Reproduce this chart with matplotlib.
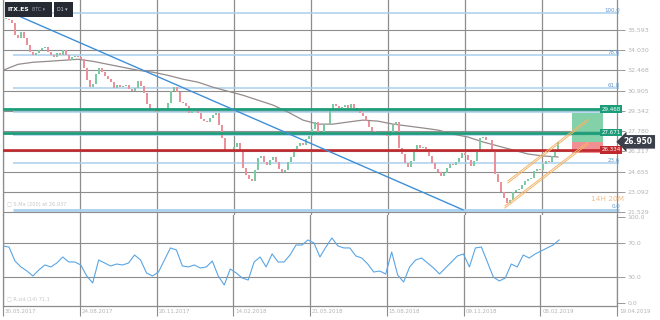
import matplotlib
matplotlib.use("Agg")
import matplotlib.pyplot as plt
import matplotlib.transforms as mtransforms
from matplotlib.patches import Rectangle
import numpy as np

# daily closes (sampled), ITX.ES
closes = [36.48, 36.48, 36.33, 36.17, 35.17, 34.94, 35.40, 34.94, 34.40, 33.86,
          33.63, 33.79, 34.02, 34.17, 34.25, 33.86, 33.63, 33.48, 33.79, 33.63,
          34.02, 33.63, 33.25, 33.48, 33.56, 33.48, 33.33, 32.63, 31.71, 31.17,
          31.40, 32.17, 32.63, 32.33, 32.02, 31.79, 31.56, 31.09, 31.32, 31.17,
          31.25, 31.32, 31.02, 30.86, 31.09, 31.63, 31.25, 30.71, 29.86, 29.48,
          29.40, 29.25, 29.40, 29.40, 29.48, 29.94, 30.86, 31.17, 30.79, 30.02,
          29.94, 29.71, 29.17, 29.32, 29.40, 29.17, 28.71, 28.55, 28.48, 28.79,
          29.02, 29.17, 28.25, 27.25, 26.32, 26.17, 26.24, 26.55, 26.86, 26.17,
          24.94, 24.40, 24.09, 23.93, 24.78, 25.71, 25.86, 25.40, 25.17, 25.55,
          25.78, 25.40, 24.86, 24.63, 24.78, 25.40, 25.78, 26.40, 26.63, 26.86,
          26.71, 27.17, 27.40, 27.94, 28.48, 27.71, 27.56, 28.25, 28.32, 29.40,
          29.86, 29.71, 29.55, 29.63, 29.79, 29.55, 29.86, 29.55, 29.32, 29.17,
          28.94, 28.55, 28.09, 27.78, 27.56, 27.63, 27.48, 27.71, 27.40, 27.71,
          28.25, 28.48, 26.48, 26.01, 25.32, 25.01, 25.47, 26.24, 26.71, 26.48,
          26.55, 26.40, 25.86, 25.32, 24.86, 24.63, 24.32, 24.55, 24.94, 25.24,
          25.17, 25.40, 25.71, 26.09, 25.94, 25.55, 25.09, 25.47, 26.24, 27.25,
          27.32, 27.09, 27.09, 26.32, 24.47, 23.86, 23.09, 22.63, 22.24, 22.48,
          23.09, 23.24, 23.32, 23.63, 23.93, 24.09, 24.17, 24.71, 24.86, 24.78,
          25.24, 25.47, 25.40, 25.86, 26.32, 26.95]

# 200 MA, one value every 5 samples
ma200 = [32.48, 32.94, 33.10, 33.17, 33.25, 33.33, 33.17, 32.94, 32.71, 32.48,
         32.33, 32.09, 31.79, 31.56, 31.17, 30.86, 30.55, 30.17, 29.79, 29.25,
         28.63, 28.32, 28.32, 28.48, 28.63, 28.55, 28.32, 28.17, 28.02, 27.86,
         27.55, 27.32, 26.94, 26.63, 26.32, 26.01, 25.86, 25.78]

# RSI(14), one value every 2 samples
rsi = [66.3, 65.1, 48.8, 41.9, 37.2, 31.4, 38.4, 44.2, 41.9, 46.5,
       53.5, 47.7, 47.7, 44.2, 31.4, 23.3, 50.0, 46.5, 43.0, 45.3,
       44.2, 46.5, 55.8, 50.0, 34.9, 31.4, 36.0, 50.0, 64.0, 61.6,
       43.0, 41.9, 44.2, 40.7, 41.9, 48.8, 31.4, 20.9, 39.5, 34.9,
       29.1, 26.7, 47.7, 53.5, 41.9, 57.0, 47.7, 47.7, 55.8, 67.4,
       67.4, 73.3, 69.8, 53.5, 65.1, 75.6, 66.3, 64.0, 64.0, 54.7,
       52.3, 45.3, 36.0, 37.2, 33.7, 59.3, 32.6, 24.4, 41.9, 50.0,
       52.3, 46.5, 40.7, 33.7, 40.7, 47.7, 54.7, 57.0, 41.9, 64.0,
       65.1, 47.7, 30.2, 25.6, 29.1, 45.3, 41.9, 55.8, 52.3, 57.0,
       60.5, 64.0, 67.4, 73.3]

date_labels = ["30.05.2017", "24.08.2017", "20.11.2017", "14.02.2018", "21.05.2018",
               "15.08.2018", "09.11.2018", "08.02.2019", "19.04.2019"]
price_ticks = [21.529, 23.092, 24.655, 26.217, 27.780, 29.342, 30.905, 32.468, 34.030, 35.593]
price_labels = ["21.529", "23.092", "24.655", "26.217", "27.780", "29.342", "30.905",
                "32.468", "34.030", "35.593"]
rsi_ticks = [0, 30, 70, 100]
rsi_labels = ["0.0", "30.0", "70.0", "100.0"]

# drawings
trend_start = (3.3, 36.87)
trend_end = (153.3, 21.70)
fib_levels = [0.0, 23.6, 38.2, 50.0, 61.8, 78.6, 100.0]
fib_shown = ["0.0", "23.6", "", "", "61.8", "78.6", "100.0"]
green_levels = [29.468, 27.671]
red_level = 26.334
channel_upper = [(168.3, 23.77), (195.0, 28.56)]
channel_lower = [(167.3, 21.84), (195.0, 26.78)]
box_x = (189.7, 200.0)
target_box = (26.94, 29.18)
stop_box = (26.09, 26.94)
last_price = 26.950

GREEN = "#1c9c78"
RED = "#c0282d"
FIB = "#a9d0ee"
GRID = "#8d8d8d"
TXT = "#b4b4b4"

fig = plt.figure(figsize=(6.6, 3.2), dpi=100)
ax = fig.add_axes([3 / 660, 1 - 215 / 320, 614 / 660, 215 / 320])
rx = fig.add_axes([3 / 660, 1 - 306 / 320, 614 / 660, 91 / 320])

xmax = 204.67
tick_step = 25.67
date_pos = np.arange(len(date_labels)) * tick_step

# ---- main price panel ----
ax.set_xlim(0, xmax)
ax.set_ylim(21.297, 37.911)

for p in price_ticks:
    ax.axhline(p, color=GRID, lw=0.8, zorder=0)
for d in date_pos:
    ax.axvline(d, color=GRID, lw=0.9, zorder=0)

# fib retracement
lo, hi = trend_end[1], trend_start[1]
for lvl, lab in zip(fib_levels, fib_shown):
    y = lo + (hi - lo) * lvl / 100.0
    ax.hlines(y, trend_start[0], 205.5, color=FIB, lw=2.0 if lvl == 0 else 1.1,
              zorder=1, clip_on=False)
    if lab:
        ax.text(205.7, y + 0.05, lab, fontsize=4, color="#5f95cc", ha="right",
                va="bottom", clip_on=False)

# candles
x = np.arange(len(closes))
c = np.array(closes)
o = np.r_[c[0], c[:-1]]
up = c >= o
h = np.where(np.abs(c - o) < 0.04, 0.04, c - o)
cols = ["#7bcaa2" if u else "#ea919c" for u in up]
ax.bar(x, h, bottom=o, width=0.95, color=cols, linewidth=0, zorder=3)

# moving average
ax.plot(np.arange(len(ma200)) * 5, ma200, color="#958b8b", lw=0.9, zorder=2)

# trend line
ax.plot([trend_start[0], trend_end[0]], [trend_start[1], trend_end[1]],
        color="#3f8fd8", lw=1.0, zorder=5)

# channel
for line in (channel_upper, channel_lower):
    (x0, y0), (x1, y1) = line
    for off in (0.0, 0.16):
        ax.plot([x0, x1], [y0 + off, y1 + off], color="#f2b56b", lw=0.7, zorder=5)

# position boxes
ax.add_patch(Rectangle((box_x[0], target_box[0]), box_x[1] - box_x[0],
                       target_box[1] - target_box[0], color="#6cc99a", alpha=0.85,
                       lw=0, zorder=2))
ax.add_patch(Rectangle((box_x[0], stop_box[0]), box_x[1] - box_x[0],
                       stop_box[1] - stop_box[0], color="#ef7c80", alpha=0.85,
                       lw=0, zorder=2))

# horizontal levels
for lv in green_levels:
    ax.axhline(lv, xmax=(600 - 3) / 614, color=GREEN, lw=2.0, zorder=4)
ax.axhline(red_level, xmax=(600 - 3) / 614, color=RED, lw=1.9, zorder=4)

trans = mtransforms.blended_transform_factory(ax.transAxes, ax.transData)
for lv, col in [(green_levels[0], GREEN), (green_levels[1], GREEN), (red_level, RED)]:
    ax.text(0.9905, lv, "%.3f" % lv, transform=trans, fontsize=4, color="white",
            ha="center", va="center", zorder=7, clip_on=False,
            bbox=dict(boxstyle="square,pad=0.25", fc=col, ec="none"))

ax.text(1.011, last_price, "%.3f" % last_price, transform=trans, fontsize=5.5,
        color="white", ha="left", va="center", fontweight="bold", zorder=7,
        clip_on=False,
        bbox=dict(boxstyle="larrow,pad=0.3", fc="#3b3f4a", ec="none"))

ax.text(196.0, 22.55, "14H 20M", fontsize=5.3, color="#f3c089", ha="left",
        va="center", clip_on=False, zorder=6)

ax.text(0.007, 0.035, "\u25a1 S.Ma (200) at 26.937", transform=ax.transAxes,
        fontsize=3.6, color="#c6c6c6", va="bottom")

ax.set_yticks(price_ticks)
ax.set_yticklabels(price_labels)
ax.yaxis.tick_right()
ax.tick_params(axis="y", length=6, width=0.7, color="#999999", labelsize=4.5,
               labelcolor=TXT, pad=1.5)
ax.set_xticks([])
for s in ["top", "bottom"]:
    ax.spines[s].set_visible(False)
for s in ["left", "right"]:
    ax.spines[s].set_color("#8d8d8d")
    ax.spines[s].set_linewidth(0.9)

# ---- RSI panel ----
rx.set_xlim(0, xmax)
rx.set_ylim(-3.5, 102.3)
for d in date_pos:
    rx.axvline(d, color=GRID, lw=0.9, zorder=0)
for lv in (30, 70):
    rx.axhline(lv, color=GRID, lw=0.8, zorder=0)
rx.plot(np.arange(len(rsi)) * 2, rsi, color="#5aa5e4", lw=0.8, zorder=3)
rx.text(0.007, 0.04, "\u25a1 R.sid (14) 71.1", transform=rx.transAxes,
        fontsize=3.6, color="#c6c6c6", va="bottom")

rx.set_yticks(rsi_ticks)
rx.set_yticklabels(rsi_labels)
rx.yaxis.tick_right()
rx.tick_params(axis="y", length=6, width=0.7, color="#999999", labelsize=4.5,
               labelcolor=TXT, pad=1.5)
rx.set_xticks(date_pos)
rx.set_xticklabels(date_labels, ha="left")
rx.tick_params(axis="x", length=7, width=0.8, color="#8d8d8d", labelsize=4,
               labelcolor=TXT, pad=-4.5)
for lab in rx.get_xticklabels():
    lab.set_x(lab.get_position()[0])
offset = mtransforms.ScaledTranslation(2 / 100, 0, fig.dpi_scale_trans)
for lab in rx.get_xticklabels():
    lab.set_transform(lab.get_transform() + offset)
rx.spines["top"].set_visible(False)
for s in ["left", "right", "bottom"]:
    rx.spines[s].set_color("#8d8d8d")
    rx.spines[s].set_linewidth(0.9)

# ---- header ----
fig.patches.append(Rectangle((5 / 660, 1 - 17 / 320), 47 / 660, 15 / 320,
                             transform=fig.transFigure, fc="#262a33", ec="none"))
fig.patches.append(Rectangle((54 / 660, 1 - 17 / 320), 19 / 660, 15 / 320,
                             transform=fig.transFigure, fc="#262a33", ec="none"))
fig.text(8 / 660, 1 - 9.5 / 320, "ITX.ES", fontsize=4.3, color="white",
         fontweight="bold", va="center")
fig.text(32 / 660, 1 - 9.5 / 320, "BTC \u25be", fontsize=3.4, color="#9aa3b0",
         va="center")
fig.text(57 / 660, 1 - 9.5 / 320, "D1 \u25be", fontsize=3.4, color="#c9ced6",
         va="center")

fig.savefig("out.png", dpi=100, facecolor="white")
